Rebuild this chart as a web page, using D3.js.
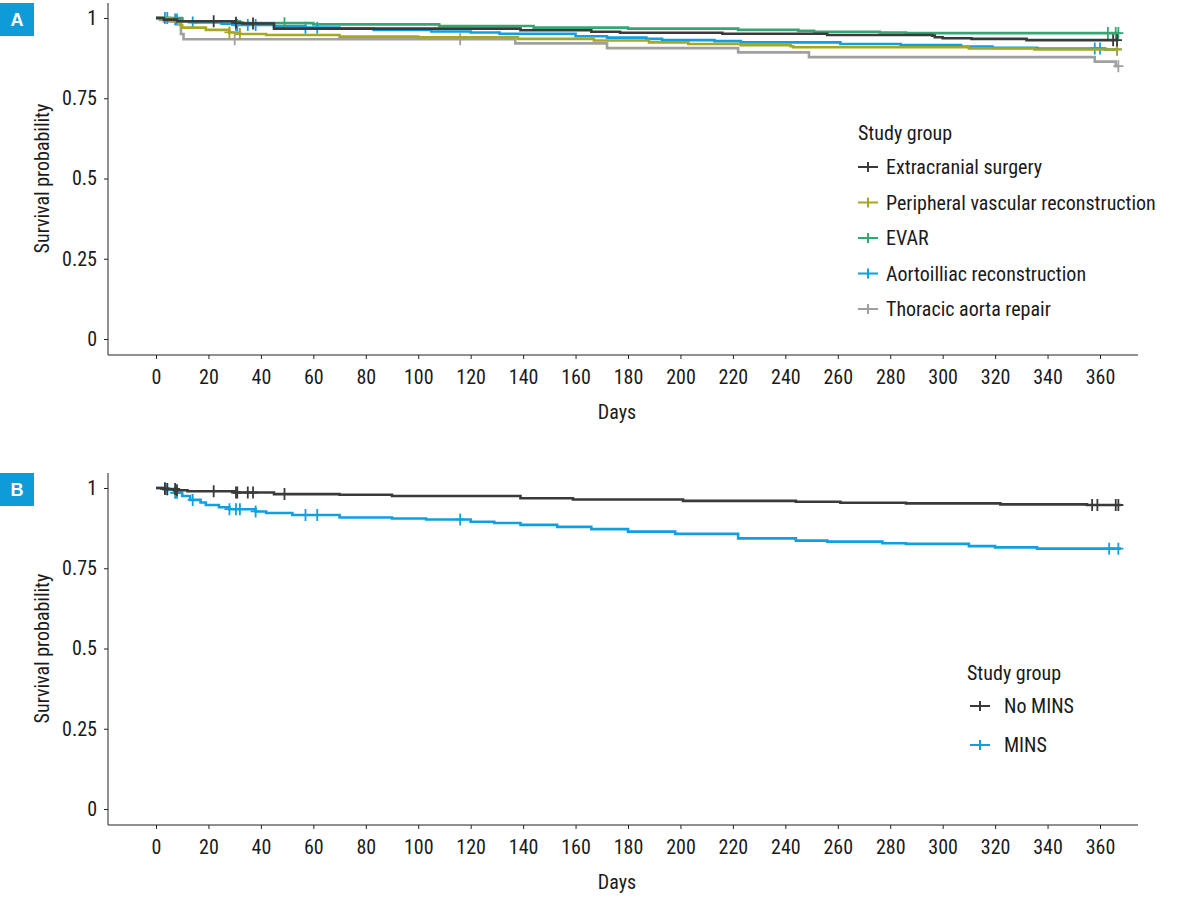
<!DOCTYPE html>
<html><head><meta charset="utf-8">
<script src="https://cdn.jsdelivr.net/npm/d3@7"></script>
<style>
body{margin:0;background:#fff;}
svg text{font-family:"Liberation Sans Narrow","Roboto Condensed","DejaVu Sans Condensed",sans-serif;fill:#1a1a1a;}
</style></head><body>
<script>
// ---------- data ----------
const dayTicks = d3.range(0, 361, 20);
const survTicks = [0, 0.25, 0.5, 0.75, 1];
const survTickLabels = ["0", "0.25", "0.5", "0.75", "1"];

const groupsA = ["Extracranial surgery", "Peripheral vascular reconstruction", "EVAR", "Aortoilliac reconstruction", "Thoracic aorta repair"];
const colorsA = ["#3a3a3a", "#a8a820", "#35a672", "#129fe0", "#a0a0a0"];

const extracranialSteps = [[0,1],[3,0.995],[8,0.99],[30,0.985],[33,0.983],[45,0.967],[139,0.962],[166,0.957],[177,0.954],[216,0.951],[256,0.947],[296,0.945],[297,0.94],[300,0.937],[311,0.935],[332,0.931],[367,0.931]];
const extracranialCensor = [22, 30.5, 37, 365, 366.5];

const peripheralSteps = [[0,1],[6,0.99],[9,0.978],[10,0.97],[19,0.963],[28,0.955],[32,0.95],[42,0.947],[70,0.942],[100,0.94],[138,0.935],[167,0.93],[188,0.924],[203,0.919],[223,0.915],[242,0.912],[243,0.909],[310,0.905],[335,0.902],[367,0.90]];
const peripheralCensor = [28, 32, 366.5];

const evarSteps = [[0,1],[10,0.99],[32,0.984],[60,0.98],[108,0.975],[144,0.97],[180,0.967],[222,0.963],[245,0.96],[251,0.957],[276,0.955],[286,0.953],[367,0.953]];
const evarCensor = [49, 363, 366, 367];

const aortoSteps = [[0,1],[5,0.995],[10,0.99],[14,0.986],[25,0.982],[30,0.978],[45,0.974],[57,0.97],[70,0.967],[83,0.963],[105,0.958],[120,0.955],[131,0.951],[160,0.943],[172,0.939],[187,0.935],[193,0.931],[213,0.928],[223,0.924],[261,0.919],[284,0.916],[307,0.911],[319,0.907],[336,0.905],[362,0.902],[367,0.902]];
const aortoCensor = [3.4, 4.3, 7.3, 8, 14, 30.5, 31, 35, 38, 57, 61.5, 358, 360, 366.5];

const thoracicSteps = [[0,1],[1.5,0.994],[3,0.989],[9.5,0.95],[10.5,0.934],[137,0.921],[172,0.906],[222,0.893],[249,0.878],[358,0.864],[366,0.85],[367,0.85]];
const thoracicCensor = [30, 116, 367];

const groupsB = ["No MINS", "MINS"];
const colorsB = ["#3a3a3a", "#129fe0"];

const noMinsSteps = [[0,1],[3,0.997],[8,0.993],[12,0.99],[30,0.986],[45,0.981],[70,0.979],[90,0.975],[139,0.968],[159,0.964],[201,0.96],[244,0.957],[261,0.954],[286,0.952],[322,0.949],[355,0.947],[368,0.947]];
const noMinsCensor = [3.4, 4.3, 7.3, 8, 22, 30.5, 31, 35, 37, 49, 357, 359, 366, 367];

const minsSteps = [[0,1],[4,0.995],[7,0.985],[10,0.975],[13,0.963],[17,0.955],[19,0.947],[24,0.94],[28,0.934],[38,0.927],[42,0.922],[52,0.916],[70,0.908],[90,0.905],[103,0.902],[120,0.895],[129,0.891],[139,0.885],[153,0.879],[166,0.872],[180,0.864],[198,0.857],[222,0.843],[244,0.836],[256,0.833],[277,0.828],[286,0.826],[310,0.819],[320,0.815],[336,0.811],[368,0.811]];
const minsCensor = [3.4, 4.3, 7.3, 8, 14, 28, 30.5, 32, 38, 57, 61.5, 116, 363.5, 367];

const seriesA = [
  {steps: extracranialSteps, censor: extracranialCensor},
  {steps: peripheralSteps, censor: peripheralCensor},
  {steps: evarSteps, censor: evarCensor},
  {steps: aortoSteps, censor: aortoCensor},
  {steps: thoracicSteps, censor: thoracicCensor}
];
const seriesB = [
  {steps: noMinsSteps, censor: noMinsCensor},
  {steps: minsSteps, censor: minsCensor}
];

// ---------- drawing ----------
const W = 1198, H = 903;
const FS = "20px";
const svg = d3.select("body").append("svg").attr("width", W).attr("height", H);

function survAt(steps, t){
  let v = steps[0][1];
  for (const s of steps){ if (s[0] <= t) v = s[1]; }
  return v;
}

function panel(offY, label, series, colors, groups, legendPos){
  const g = svg.append("g").attr("transform", `translate(0,${offY})`);
  const x = d3.scaleLinear().domain([0, 360]).range([156, 1100]);
  const y = d3.scaleLinear().domain([0, 1]).range([339, 18]);
  const xLeft = 108, xRight = 1138, yTop = 3, yBot = 355;

  // label box
  g.append("rect").attr("x", 0).attr("y", 3).attr("width", 34).attr("height", 33).attr("fill", "#0f9bd8");
  g.append("text").attr("x", 17).attr("y", 20).attr("text-anchor", "middle").attr("dominant-baseline", "central")
    .style("fill", "#fff").style("font-weight", "bold").style("font-size", "18px").style("font-family", "Liberation Sans, Arial, sans-serif").text(label);

  // axes lines
  g.append("line").attr("x1", xLeft).attr("x2", xLeft).attr("y1", yTop).attr("y2", yBot).attr("stroke", "#222").attr("stroke-width", 1);
  g.append("line").attr("x1", xLeft).attr("x2", xRight).attr("y1", yBot).attr("y2", yBot).attr("stroke", "#222").attr("stroke-width", 1);

  const xa = g.append("g").attr("transform", `translate(0,${yBot})`)
    .call(d3.axisBottom(x).tickValues(dayTicks).tickSize(4).tickPadding(11).tickFormat(d3.format("d")));
  xa.select(".domain").remove();
  xa.selectAll("line").attr("stroke", "#222");
  xa.selectAll("text").style("font-size", FS).style("fill", "#1a1a1a");

  const ya = g.append("g").attr("transform", `translate(${xLeft},0)`)
    .call(d3.axisLeft(y).tickValues(survTicks).tickSize(4).tickPadding(7).tickFormat((d,i) => survTickLabels[i]));
  ya.select(".domain").remove();
  ya.selectAll("line").attr("stroke", "#222");
  ya.selectAll("text").style("font-size", FS).style("fill", "#1a1a1a");

  g.append("text").attr("transform", `translate(42,${(y(0)+y(1))/2}) rotate(-90)`).attr("text-anchor", "middle")
    .attr("dominant-baseline", "central").style("font-size", FS).text("Survival probability");
  g.append("text").attr("x", (xLeft + xRight)/2 - 6).attr("y", 412).attr("text-anchor", "middle")
    .attr("dominant-baseline", "central").style("font-size", FS).text("Days");

  const line = d3.line().x(d => x(d[0])).y(d => y(d[1])).curve(d3.curveStepAfter);
  const order = series.map((s,i)=>i).reverse();
  order.forEach(i => {
    const s = series[i];
    g.append("path").datum(s.steps).attr("d", line).attr("fill", "none")
      .attr("stroke", colors[i]).attr("stroke-width", 2.6);
    g.selectAll(null).data(s.censor).enter().append("path")
      .attr("transform", t => `translate(${x(t)},${y(survAt(s.steps, t))})`)
      .attr("d", "M-5,0H5M0,-6V6").attr("stroke", colors[i]).attr("stroke-width", 1.8).attr("fill", "none");
  });

  // legend
  const lg = g.append("g").attr("transform", `translate(${legendPos[0]},${legendPos[1]})`);
  lg.append("text").attr("x", 0).attr("y", 0).attr("dominant-baseline", "central").style("font-size", FS).text("Study group");
  groups.forEach((name, i) => {
    const yy = legendPos[2] + i * legendPos[3];
    lg.append("path").attr("d", `M${legendPos[4]},${yy}h20M${legendPos[4]+10},${yy-5}v10`)
      .attr("stroke", colors[i]).attr("stroke-width", 2).attr("fill", "none");
    lg.append("text").attr("x", legendPos[5]).attr("y", yy).attr("dominant-baseline", "central")
      .style("font-size", FS).text(name);
  });
}

panel(0, "A", seriesA, colorsA, groupsA, [858, 133, 34, 35.5, 0, 28]);
panel(470, "B", seriesB, colorsB, groupsB, [967, 203, 33, 39, 3, 37]);
</script>
</body></html>
